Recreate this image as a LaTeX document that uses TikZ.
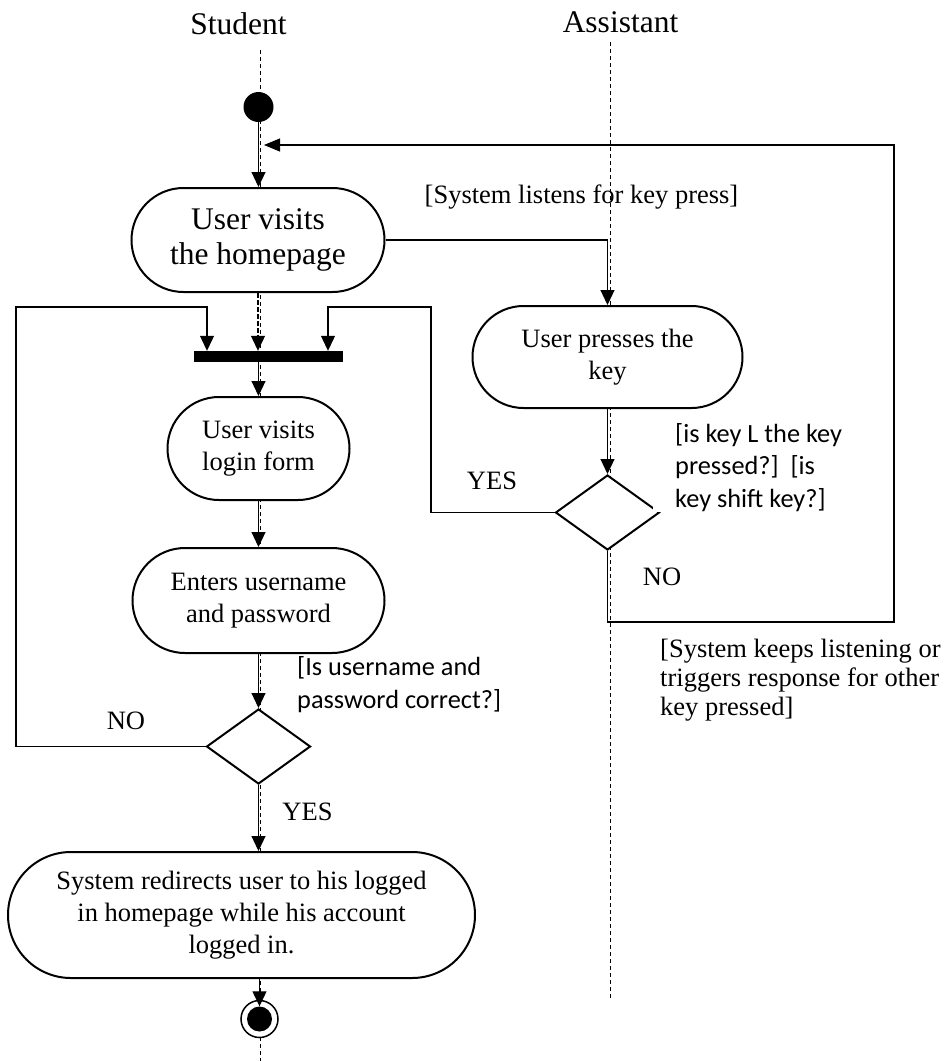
\documentclass[tikz,border=0pt]{standalone}
\usepackage{fontspec}
\setmainfont{Liberation Serif}
\newfontfamily\labelsans{Carlito}
\usetikzlibrary{arrows.meta,shapes.misc,shapes.geometric}

\begin{document}
\begin{tikzpicture}[x=1pt,y=-1pt,
  lifeline/.style={line width=0.9pt, dash pattern=on 4pt off 3pt},
  activity/.style={rounded rectangle, draw, line width=2pt, fill=white, align=center,
    inner sep=0pt, font=\fontsize{26.5}{32}\selectfont},
  decision/.style={diamond, draw, line width=2pt, fill=white, inner sep=0pt,
    minimum width=104pt, minimum height=75pt, aspect=1.4},
  flow/.style={line width=1.1pt, -{Triangle[length=15pt,width=14pt]}},
  swimlane/.style={inner sep=0pt, font=\fontsize{31.5}{35}\selectfont},
  guard/.style={inner sep=0pt, align=left, font=\fontsize{26.5}{29}\selectfont},
  sguard/.style={inner sep=0pt, align=left, font=\labelsans\fontsize{26.3}{32.5}\selectfont}]

\useasboundingbox (0,0) rectangle (945,1061);

% swimlane headings and lifelines
\node[swimlane, anchor=base] (student) at (238.5,34) {Student};
\node[swimlane, anchor=base] (assistant) at (620.5,32) {Assistant};
\coordinate (sTop) at (260,50);
\coordinate (sBot) at (260,1061);
\coordinate (aTop) at (610,42);
\coordinate (aBot) at (610,1000);
\draw[lifeline] (sTop) -- (sBot);
\draw[lifeline] (aTop) -- (aBot);

% student column
\node[circle, fill=black, minimum size=30pt, inner sep=0pt] (start) at (258.5,107) {};
\node[activity, font=\fontsize{31.5}{35}\selectfont, minimum width=253pt, minimum height=104pt]
  (home) at (258,240) {User visits\\the homepage};
\node[rectangle, fill=black, minimum width=149pt, minimum height=11pt, inner sep=0pt]
  (bar) at (268.5,356.5) {};
\node[activity, minimum width=182pt, minimum height=103pt] (login) at (258.5,448.5)
  {User visits\\login form};
\node[activity, minimum width=252pt, minimum height=105pt] (enter) at (258.5,600.5)
  {Enters username\\and password};
\node[decision] (check) at (258.5,746.5) {};
\node[activity, minimum width=467pt, minimum height=126pt] (final) at (241.5,915)
  {System redirects user to his logged\\in homepage while his account\\logged in.};
\node[circle, draw, line width=1.5pt, fill=white, minimum size=37pt, inner sep=0pt]
  (finish) at (259.5,1019) {};
\node[circle, fill=black, minimum size=25pt, inner sep=0pt] (finishdot) at (259.5,1019) {};

% assistant column
\node[activity, minimum width=270pt, minimum height=102pt] (press) at (607.5,357)
  {User presses the\\key};
\node[decision] (keycheck) at (607.5,512.5) {};

% guards and branch labels (multi-line ones are placed by their last baseline)
\node[guard, anchor=base] (listen) at (581.5,203) {[System listens for key press]};
\node[guard, anchor=base] (yesR) at (492,489) {YES};
\node[guard, anchor=base] (noR) at (662,585) {NO};
\node[guard, anchor=base west] (keep) at (660,715)
  {[System keeps listening or\\triggers response for other\\key pressed]};
\node[sguard, anchor=base west] (credq) at (297,708) {[Is username and\\password correct?]};
\node[guard, anchor=base] (noL) at (126,729) {NO};
\node[guard, anchor=base] (yesB) at (307.5,820) {YES};

% main flow of the student
\draw[flow] (start.south) -- (start.south |- home.north);
\draw[flow, dash pattern=on 5pt off 2pt] (home.south) -- (home.south |- bar.north);
\draw[flow] (bar.south -| login.north) -- (login.north);
\draw[flow] (login.south) -- (enter.north);
\draw[flow] (enter.south) -- (check.north);
\draw[flow] (check.south) -- (check.south |- final.north);
\draw[flow] (final.south -| finishdot) -- (finishdot.north);

% failed login goes back to the fork bar
\coordinate (lpA) at (16,746.5);
\coordinate (lpB) at (16,307);
\coordinate (lpC) at (207,307);
\draw[flow] (check.west) -- (lpA) -- (lpB) -- (lpC) -- (lpC |- bar.north);

% key listener branch
\draw[flow] (home.east) -| (press.north);
\draw[flow] (press.south) -- (keycheck.north);
\coordinate (rpA) at (431,512.5);
\coordinate (rpB) at (431,307);
\coordinate (rpC) at (328,307);
\draw[flow] (keycheck.west) -- (rpA) -- (rpB) -- (rpC) -- (rpC |- bar.north);

% other keys: keep listening
\coordinate (retA) at (607.5,622);
\coordinate (retB) at (894,622);
\coordinate (retC) at (894,145);
\coordinate (retTip) at (264,145);
\draw[line width=1.1pt, -{Triangle[length=16pt,width=13pt]}]
  (keycheck.south) -- (retA) -- (retB) -- (retC) -- (retTip);

% guard box on white, laid over the decision corner
\node[sguard, anchor=base west, fill=white, inner xsep=22pt, inner ysep=1pt] (keyq)
  at (653,507) {[is key L the key\\pressed?]\ \ [is\\key shift key?]};
\end{tikzpicture}
\end{document}
